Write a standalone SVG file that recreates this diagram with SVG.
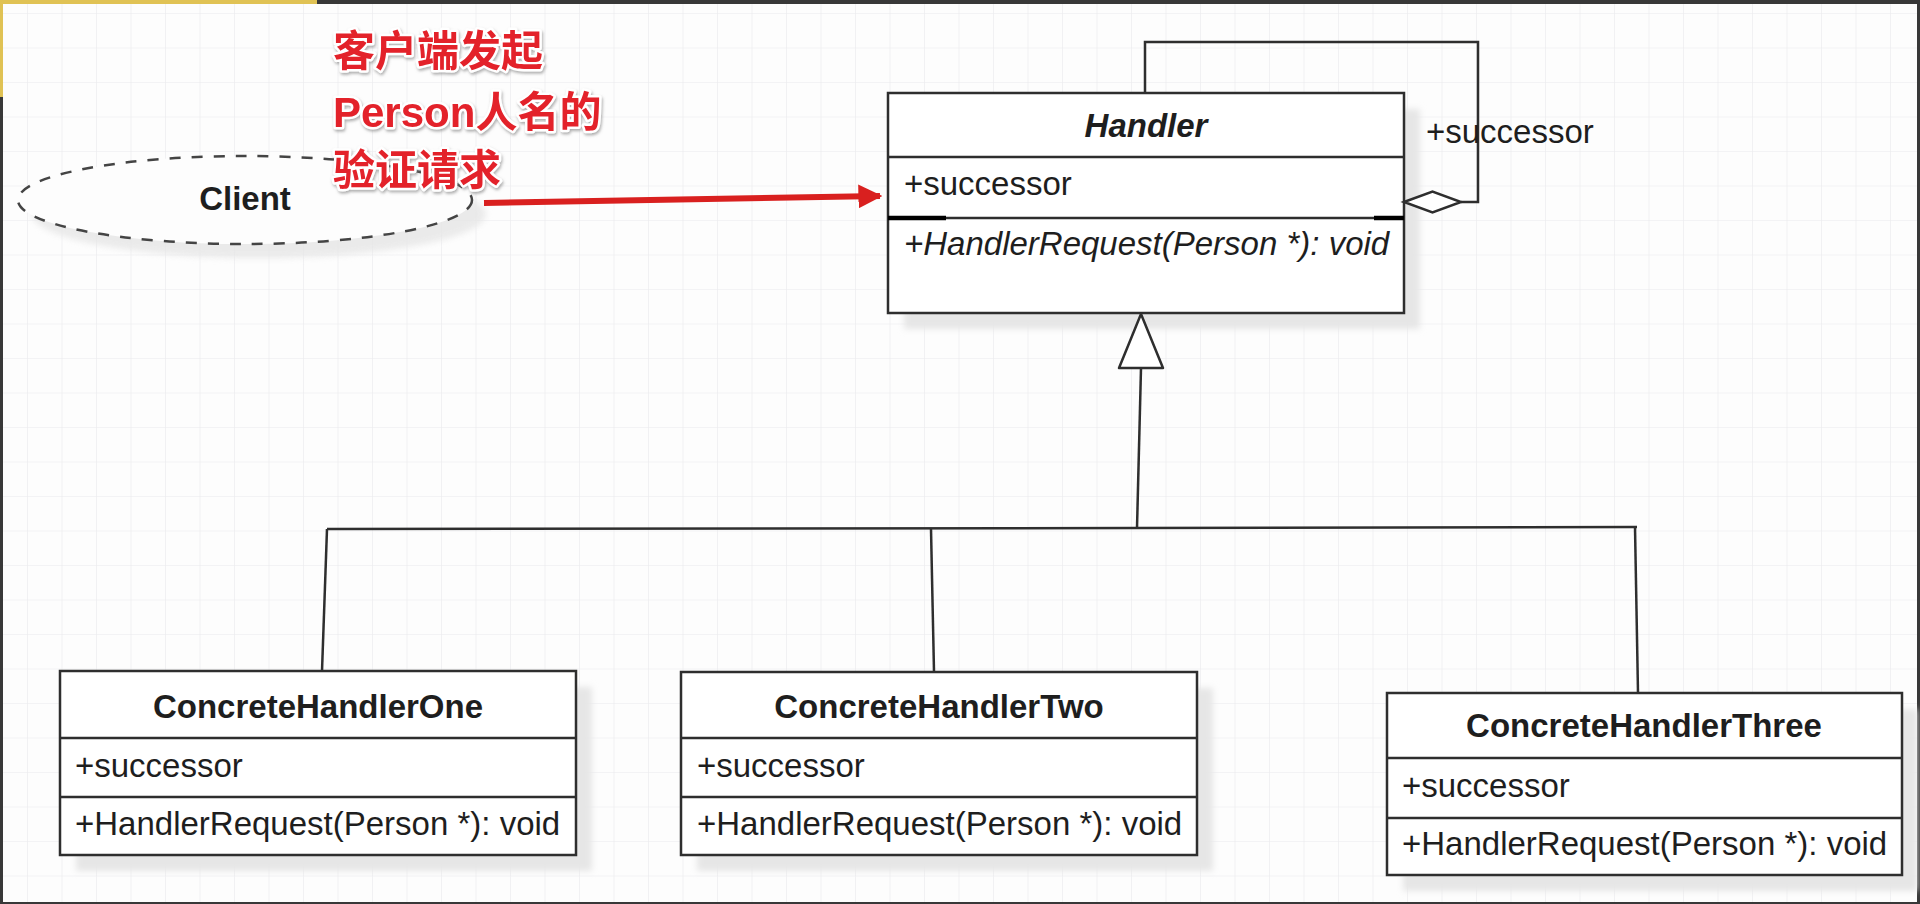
<svg xmlns="http://www.w3.org/2000/svg" width="1920" height="904" viewBox="0 0 1920 904">
<defs>
  <pattern id="grid" x="27" y="13" width="34.5" height="34.5" patternUnits="userSpaceOnUse">
    <path d="M0 0 H34.5 M0 0 V34.5" fill="none" stroke="#eaeaed" stroke-width="1.2"/>
  </pattern>
  <filter id="soft" x="-10%" y="-10%" width="130%" height="140%">
    <feGaussianBlur stdDeviation="3"/>
  </filter>
  <filter id="redshadow" x="-5%" y="-10%" width="115%" height="130%">
    <feDropShadow dx="1" dy="2" stdDeviation="1.5" flood-color="#777" flood-opacity="0.6"/>
  </filter>
  <marker id="redhead" viewBox="0 0 10 10" refX="9" refY="5" markerWidth="4" markerHeight="4" orient="auto" markerUnits="strokeWidth">
    <path d="M0 0 L10 5 L0 10 Z" fill="#d9201f"/>
  </marker>
</defs>
<style>
  .box { fill: #ffffff; stroke: #2e2e2e; stroke-width: 2.5; }
  .div { stroke: #2e2e2e; stroke-width: 2.5; }
  .shadow { fill: #e6e6e6; }
  .txt { font-family: "Liberation Sans", Arial, sans-serif; font-size: 33px; fill: #1e1e1e; }
  .title { font-weight: bold; text-anchor: middle; }
  .it { font-style: italic; }
  .line { fill: none; stroke: #2e2e2e; stroke-width: 2.5; }
  .red { font-family: "Liberation Sans", "Noto Sans CJK SC", sans-serif; font-size: 42px; font-weight: bold; fill: #e3222b; stroke: #ffffff; stroke-width: 5; paint-order: stroke; stroke-linejoin: round; }
</style>

<!-- background and frame -->
<rect x="0" y="0" width="1920" height="904" fill="#fdfdfd"/>
<rect x="0" y="0" width="1920" height="904" fill="url(#grid)"/>
<rect x="0" y="0" width="1920" height="4" fill="#383838"/>
<rect x="0" y="0" width="317" height="4" fill="#e0c254"/>
<rect x="0" y="0" width="3" height="97" fill="#e0c254"/>
<rect x="0" y="97" width="3" height="807" fill="#383838"/>
<rect x="1917" y="0" width="3" height="904" fill="#383838"/>
<rect x="0" y="902" width="1920" height="2" fill="#383838"/>

<!-- Client -->
<g id="client">
  <ellipse cx="259" cy="214" rx="227" ry="44" class="shadow" filter="url(#soft)" opacity="0.8"/>
  <ellipse cx="245" cy="200" rx="227" ry="44" fill="#fdfdfd" stroke="#444" stroke-width="2.5" stroke-dasharray="11 11"/>
  <text class="txt title" x="245" y="210" font-size="32">Client</text>
</g>

<!-- Annotation -->
<g id="annotation" filter="url(#redshadow)">
  <text class="red" x="333" y="66">客户端发起</text>
  <text class="red" x="333" y="127">Person人名的</text>
  <text class="red" x="333" y="185">验证请求</text>
</g>

<!-- Handler -->
<g id="handler">
  <rect class="shadow" x="904" y="109" width="516" height="220" filter="url(#soft)"/>
  <rect class="box" x="888" y="93" width="516" height="220"/>
  <line class="div" x1="888" y1="157" x2="1404" y2="157"/>
  <line class="div" x1="888" y1="218" x2="1404" y2="218"/>
  <line x1="888" y1="218" x2="946" y2="218" stroke="#000" stroke-width="4.5"/>
  <line x1="1374" y1="218" x2="1404" y2="218" stroke="#000" stroke-width="4.5"/>
  <text class="txt title it" x="1146" y="137">Handler</text>
  <text class="txt" x="904" y="195">+successor</text>
  <text class="txt it" x="904" y="255">+HandlerRequest(Person *): void</text>
</g>

<!-- ConcreteHandlerOne -->
<g id="concrete-one">
  <rect class="shadow" x="76" y="687" width="516" height="184" filter="url(#soft)"/>
  <rect class="box" x="60" y="671" width="516" height="184"/>
  <line class="div" x1="60" y1="738" x2="576" y2="738"/>
  <line class="div" x1="60" y1="797" x2="576" y2="797"/>
  <text class="txt title" x="318" y="718">ConcreteHandlerOne</text>
  <text class="txt" x="75" y="777">+successor</text>
  <text class="txt" x="75" y="835">+HandlerRequest(Person *): void</text>
</g>

<!-- ConcreteHandlerTwo -->
<g id="concrete-two">
  <rect class="shadow" x="697" y="688" width="516" height="183" filter="url(#soft)"/>
  <rect class="box" x="681" y="672" width="516" height="183"/>
  <line class="div" x1="681" y1="738" x2="1197" y2="738"/>
  <line class="div" x1="681" y1="797" x2="1197" y2="797"/>
  <text class="txt title" x="939" y="718">ConcreteHandlerTwo</text>
  <text class="txt" x="697" y="777">+successor</text>
  <text class="txt" x="697" y="835">+HandlerRequest(Person *): void</text>
</g>

<!-- ConcreteHandlerThree -->
<g id="concrete-three">
  <rect class="shadow" x="1403" y="709" width="514" height="182" filter="url(#soft)"/>
  <rect class="box" x="1387" y="693" width="515" height="182"/>
  <line class="div" x1="1387" y1="758" x2="1902" y2="758"/>
  <line class="div" x1="1387" y1="818" x2="1902" y2="818"/>
  <text class="txt title" x="1644" y="737">ConcreteHandlerThree</text>
  <text class="txt" x="1402" y="797">+successor</text>
  <text class="txt" x="1402" y="855">+HandlerRequest(Person *): void</text>
</g>

<!-- connectors -->
<g id="connectors">
  <line x1="484" y1="203" x2="880" y2="196" stroke="#d9201f" stroke-width="6" marker-end="url(#redhead)"/>
  <path class="line" d="M1145 93 V42 H1478 V202 H1461"/>
  <polygon points="1404,202 1432.5,191.5 1461,202 1432.5,212.5" fill="#ffffff" stroke="#2e2e2e" stroke-width="2.5"/>
  <polygon points="1141,314 1119,368 1163,368" fill="#ffffff" stroke="#2e2e2e" stroke-width="2.5" stroke-linejoin="round"/>
  <path class="line" d="M1141 368 L1137 528"/>
  <path class="line" d="M327 529 L1137 528 L1637 527"/>
  <path class="line" d="M327 529 L322 671"/>
  <path class="line" d="M931 529 L934 672"/>
  <path class="line" d="M1635 527 L1638 693"/>
  <text class="txt" x="1426" y="143" fill="#333">+successor</text>
</g>
</svg>
